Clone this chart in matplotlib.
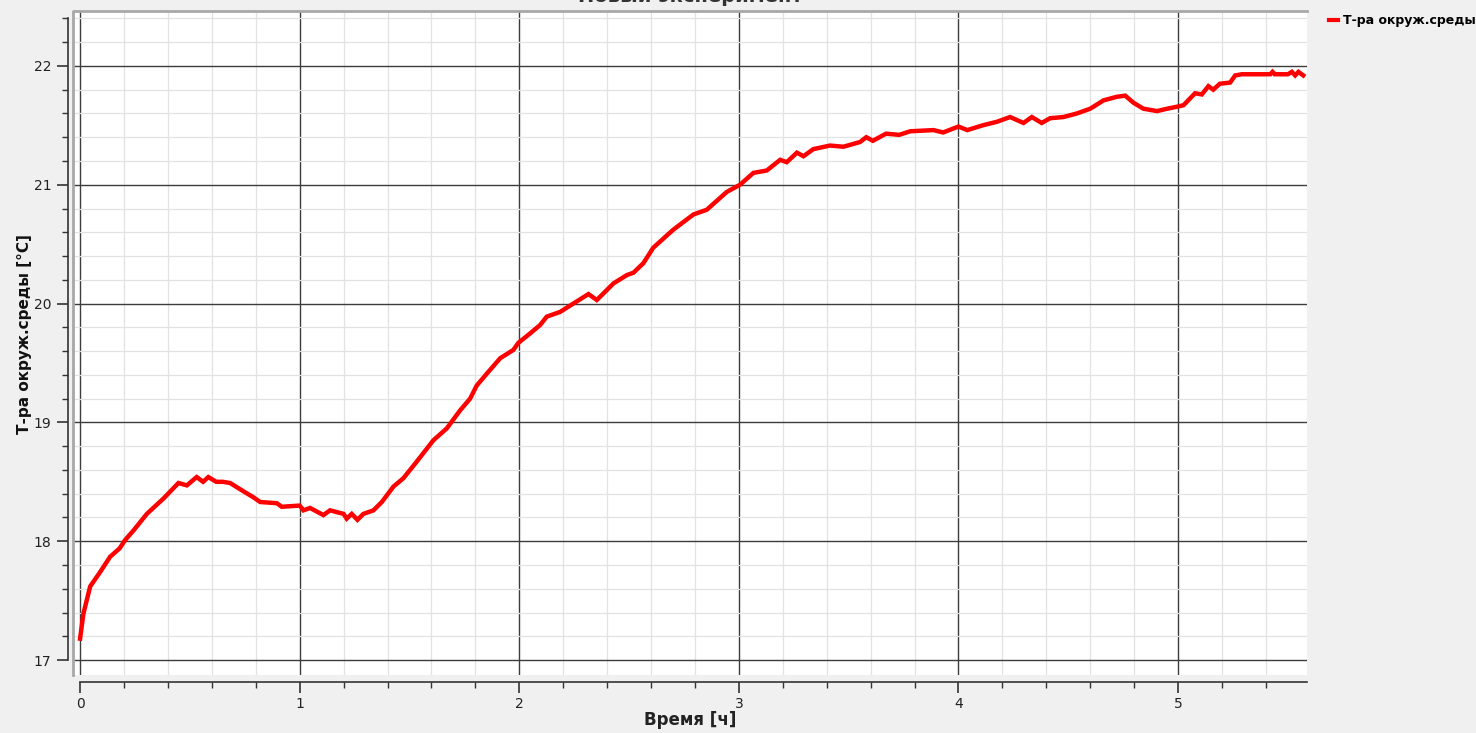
import matplotlib
matplotlib.use('Agg')
import matplotlib.pyplot as plt
from matplotlib.ticker import MultipleLocator
from matplotlib.lines import Line2D

# ==== данные ====
titulo = 'Новый эксперимент'
serie_nome = 'Т-ра окруж.среды'
x_nome = 'Время [ч]'
y_nome = 'Т-ра окруж.среды [°C]'

tempo = [0.0, 0.015, 0.046, 0.091, 0.137, 0.18, 0.205, 0.243, 0.304, 0.38,
         0.448, 0.486, 0.531, 0.56, 0.584, 0.62, 0.65, 0.683, 0.744, 0.789,
         0.82, 0.896, 0.918, 1.0, 1.017, 1.047, 1.108, 1.138, 1.2, 1.214,
         1.237, 1.263, 1.29, 1.336, 1.374, 1.427, 1.472, 1.533, 1.609, 1.67,
         1.73, 1.776, 1.806, 1.852, 1.913, 1.973, 1.996, 2.05, 2.095, 2.125,
         2.186, 2.246, 2.315, 2.353, 2.429, 2.49, 2.52, 2.565, 2.61, 2.70,
         2.793, 2.854, 2.945, 3.005, 3.066, 3.127, 3.188, 3.218, 3.264, 3.294,
         3.339, 3.415, 3.476, 3.552, 3.58, 3.61, 3.67, 3.73, 3.78, 3.886,
         3.93, 4.0, 4.04, 4.11, 4.175, 4.235, 4.296, 4.334, 4.379, 4.417,
         4.478, 4.539, 4.6, 4.66, 4.72, 4.759, 4.797, 4.842, 4.904, 4.95,
         5.003, 5.025, 5.077, 5.108, 5.138, 5.16, 5.19, 5.237, 5.26, 5.29,
         5.42, 5.43, 5.44, 5.50, 5.518, 5.533, 5.548, 5.57]
temp = [17.18, 17.39, 17.62, 17.74, 17.87, 17.94, 18.01, 18.09, 18.23, 18.36,
        18.49, 18.47, 18.54, 18.50, 18.54, 18.50, 18.50, 18.49, 18.42, 18.37,
        18.33, 18.32, 18.29, 18.30, 18.26, 18.28, 18.22, 18.26, 18.23, 18.19,
        18.23, 18.18, 18.23, 18.26, 18.33, 18.46, 18.53, 18.67, 18.85, 18.95,
        19.10, 19.20, 19.31, 19.41, 19.54, 19.61, 19.67, 19.75, 19.82, 19.89,
        19.93, 20.00, 20.08, 20.03, 20.17, 20.24, 20.26, 20.34, 20.47, 20.62,
        20.75, 20.79, 20.94, 21.00, 21.10, 21.12, 21.21, 21.19, 21.27, 21.24,
        21.30, 21.33, 21.32, 21.36, 21.40, 21.37, 21.43, 21.42, 21.45, 21.46,
        21.44, 21.49, 21.46, 21.50, 21.53, 21.57, 21.52, 21.57, 21.52, 21.56,
        21.57, 21.60, 21.64, 21.71, 21.74, 21.75, 21.69, 21.64, 21.62, 21.64,
        21.66, 21.67, 21.77, 21.76, 21.83, 21.80, 21.85, 21.86, 21.92, 21.93,
        21.93, 21.95, 21.93, 21.93, 21.95, 21.92, 21.95, 21.92]

# ==== figura ====
fig = plt.figure(figsize=(14.76, 7.33), dpi=100, facecolor='#f0f0f0')
ax = fig.add_axes([0.0495, 0.0791, 0.836, 0.906])
ax.set_facecolor('white')

ax.plot(tempo, temp, color='#ff0000', lw=3.2, solid_joinstyle='miter', zorder=5)

ax.set_xlim(-0.032, 5.587)
ax.set_ylim(16.874, 22.463)

ax.xaxis.set_major_locator(MultipleLocator(1))
ax.xaxis.set_minor_locator(MultipleLocator(0.2))
ax.yaxis.set_major_locator(MultipleLocator(1))
ax.yaxis.set_minor_locator(MultipleLocator(0.2))

ax.grid(which='minor', color='#e2e2e2', lw=0.9)
ax.grid(which='major', color='#3c3c3c', lw=1.0)
ax.set_axisbelow(True)

for s in ['top', 'right']:
    ax.spines[s].set_visible(False)
ax.spines['left'].set_position(('outward', 4))
ax.spines['left'].set_bounds(17, 22.4)
ax.spines['bottom'].set_position(('outward', 5))
ax.spines['bottom'].set_bounds(0, 5.587)
for s in ['left', 'bottom']:
    ax.spines[s].set_color('#333333')
    ax.spines[s].set_linewidth(1.2)

ax.tick_params(which='major', length=8, width=1.2, color='#333333',
               labelsize=10, labelcolor='#222222')
ax.tick_params(which='minor', length=4, width=1.0, color='#333333')
ax.tick_params(axis='x', pad=3)

# moldura cinza do painel
ax.plot([0, 0, 1], [0, 1, 1], transform=ax.transAxes, color='#a8a8a8',
        lw=2.0, clip_on=False, zorder=6)

ax.set_xlabel(x_nome, fontsize=12, fontweight='bold', color='#222222')
ax.set_ylabel(y_nome, fontsize=11, fontweight='bold', color='#111111')
ax.xaxis.set_label_coords(0.5, -0.054)
ax.yaxis.set_label_coords(-0.0332, 0.5135)

# titulo cortado na borda superior, como no original
fig.text(0.4675, 1 - 1.5 / 733, titulo, ha='center', va='baseline',
         fontsize=14, fontweight='bold', color='#333333')

alca = Line2D([], [], color='#ff0000', lw=3.0)
fig.legend([alca], [serie_nome], loc='upper left', bbox_to_anchor=(0.893, 0.996),
           frameon=False, handlelength=0.7, handletextpad=0.4,
           prop={'size': 9, 'weight': 'bold'})

fig.savefig('out.png', dpi=100, facecolor=fig.get_facecolor())
